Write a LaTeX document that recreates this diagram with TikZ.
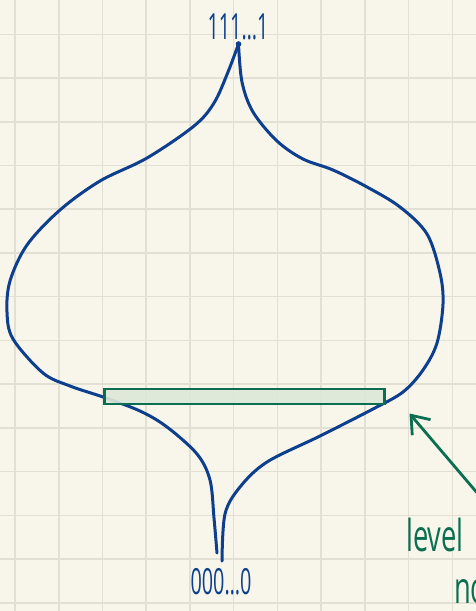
\documentclass[tikz,border=0pt]{standalone}
\usepackage{fontspec}
\setmainfont{Open Sans}
\usetikzlibrary{arrows.meta}
\definecolor{paper}{HTML}{F8F6EA}
\definecolor{gridc}{HTML}{E2E0D3}
\definecolor{inkblue}{HTML}{0D3F8E}
\definecolor{inkgreen}{HTML}{0B6E50}
\definecolor{fillgreen}{HTML}{DDE8D9}
\tikzset{
  blueink/.style={draw=inkblue, line width=3pt, line cap=round, line join=round},
  greenink/.style={draw=inkgreen, line width=2.8pt, line cap=round},
  hand/.style={inner sep=0pt, font=\fontsize{36}{36}\selectfont, xscale=0.55},
  greentext/.style={inner sep=0pt, font=\fontsize{44}{44}\selectfont, xscale=0.62, text=inkgreen, anchor=west},
}
\begin{document}
\begin{tikzpicture}[x=1pt,y=-1pt]
\useasboundingbox (0,0) rectangle (476,611);
\fill[paper] (0,0) rectangle (476,611);
\begin{scope}
\clip (0,0) rectangle (476,611);
\foreach \i in {0,...,10} \draw[gridc, line width=1.6pt] ({15+43.73*\i},0) -- ({15+43.73*\i},611);
\foreach \i in {0,...,13} \draw[gridc, line width=1.6pt] (0,{34.3+43.73*\i}) -- (476,{34.3+43.73*\i});

% tree outline
\coordinate (top) at (238.5,44);
\draw[blueink] plot[smooth, tension=0.55] coordinates {
  (238.5,44) (228,72) (214,103) (194,126) (147,158) (100,181) (60,210)
  (27,245) (10,281) (7,312) (13,339) (43,373) (70,386) (103,397)
  (140,411) (167,427) (197,454) (210,480) (214,518) (217,553)};
\draw[blueink] plot[smooth, tension=0.55] coordinates {
  (238.5,44) (242,82) (253,112) (277,141) (303,159) (333,170) (367,187)
  (400,207) (427,234) (440,273) (443,304) (437,343) (423,370) (403,392)
  (373,409) (320,436) (267,462) (240,487) (225,514) (222,561)};
\fill[inkblue] (top) circle (2.8pt);

% level box
\node (levelbox) [draw=inkgreen, line width=2.8pt, fill=fillgreen, fill opacity=0.9, draw opacity=1,
  minimum width=280pt, minimum height=15pt, inner sep=0pt, anchor=north west] at (103,387.5) {};

% labels
\node (ones) [hand, text=inkblue] at (238,27) {111…1};
\node (zeros) [hand, text=inkblue] at (221,582) {000…0};
\node (lvl) [greentext] at (406,535) {level};
\node (nd) [greentext] at (454,592) {no};

% arrow
\coordinate (arrowstart) at (490,508);
\coordinate (arrowtip) at (409.5,413.5);
\draw[greenink, -{Straight Barb[length=16pt, width=24pt, line width=2.8pt]}] (arrowstart) -- (arrowtip);
\end{scope}
\end{tikzpicture}
\end{document}
